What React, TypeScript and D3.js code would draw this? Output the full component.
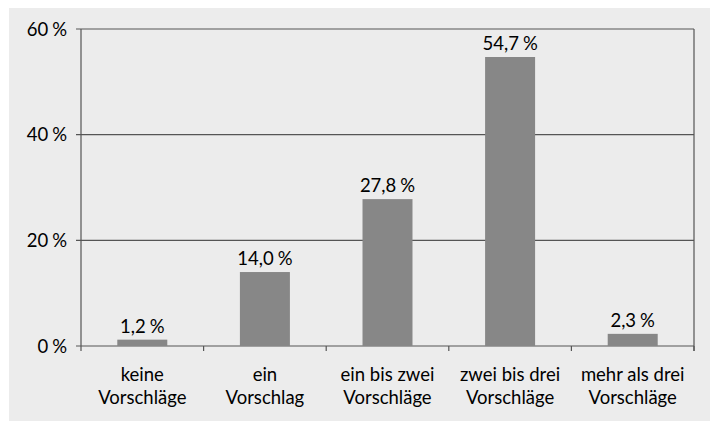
import React from "react";
import * as d3 from "d3";

const categories = [
  ["keine", "Vorschläge"],
  ["ein", "Vorschlag"],
  ["ein bis zwei", "Vorschläge"],
  ["zwei bis drei", "Vorschläge"],
  ["mehr als drei", "Vorschläge"],
];
const values = [1.2, 14.0, 27.8, 54.7, 2.3];
const yTicks = [0, 20, 40, 60];

const W = 710;
const H = 421;
const M = { left: 81, right: 694, top: 29, bottom: 346 };
const FONT = "Lato, 'Open Sans', sans-serif";
const FS = 18.5;

const pct = (s: string) => (
  <>
    {s}
    <tspan dx={4}>%</tspan>
  </>
);
const fmt = (v: number) => v.toFixed(1).replace(".", ",");

export default function App() {
  const x = d3
    .scaleBand<number>()
    .domain(d3.range(categories.length))
    .range([M.left, M.right])
    .paddingInner(0)
    .paddingOuter(0);
  const y = d3.scaleLinear().domain([0, 60]).range([M.bottom, M.top]);
  const bw = 50;
  const bounds = d3.range(categories.length + 1).map((i) => M.left + i * x.bandwidth());

  return (
    <svg
      width={W}
      height={H}
      style={{ position: "absolute", left: 0, top: 0 }}
      fontFamily={FONT}
    >
      <rect x={0} y={0} width={W} height={H} fill="#ffffff" />
      <rect x={9} y={8} width={W - 9} height={H - 8} fill="#ececec" />
      {yTicks.map((t) => (
        <g key={t}>
          <line x1={76} x2={M.right} y1={y(t)} y2={y(t)} stroke="#555" strokeWidth={1.2} />
          <text x={67} y={y(t) + 6.7} textAnchor="end" fontSize={FS} fill="#000">
            {pct(String(t))}
          </text>
        </g>
      ))}
      <line x1={M.left} x2={M.left} y1={M.top} y2={M.bottom} stroke="#555" strokeWidth={1.2} />
      <line x1={M.right} x2={M.right} y1={M.top} y2={M.bottom + 5} stroke="#555" strokeWidth={1.2} />
      {bounds.map((b, i) => (
        <line key={i} x1={b} x2={b} y1={M.bottom} y2={M.bottom + 5} stroke="#555" strokeWidth={1.2} />
      ))}
      {values.map((v, i) => {
        const cx = (x(i) as number) + x.bandwidth() / 2;
        return (
          <g key={i}>
            <rect x={cx - bw / 2} y={y(v)} width={bw} height={y(0) - y(v)} fill="#878787" />
            <text x={cx} y={y(v) - 7} textAnchor="middle" fontSize={FS} fill="#000">
              {pct(fmt(v))}
            </text>
          </g>
        );
      })}
      {categories.map((c, i) => {
        const cx = (x(i) as number) + x.bandwidth() / 2;
        return (
          <text key={i} x={cx} textAnchor="middle" fontSize={FS} fill="#000">
            <tspan x={cx} y={381}>{c[0]}</tspan>
            <tspan x={cx} y={403.5}>{c[1]}</tspan>
          </text>
        );
      })}
    </svg>
  );
}
